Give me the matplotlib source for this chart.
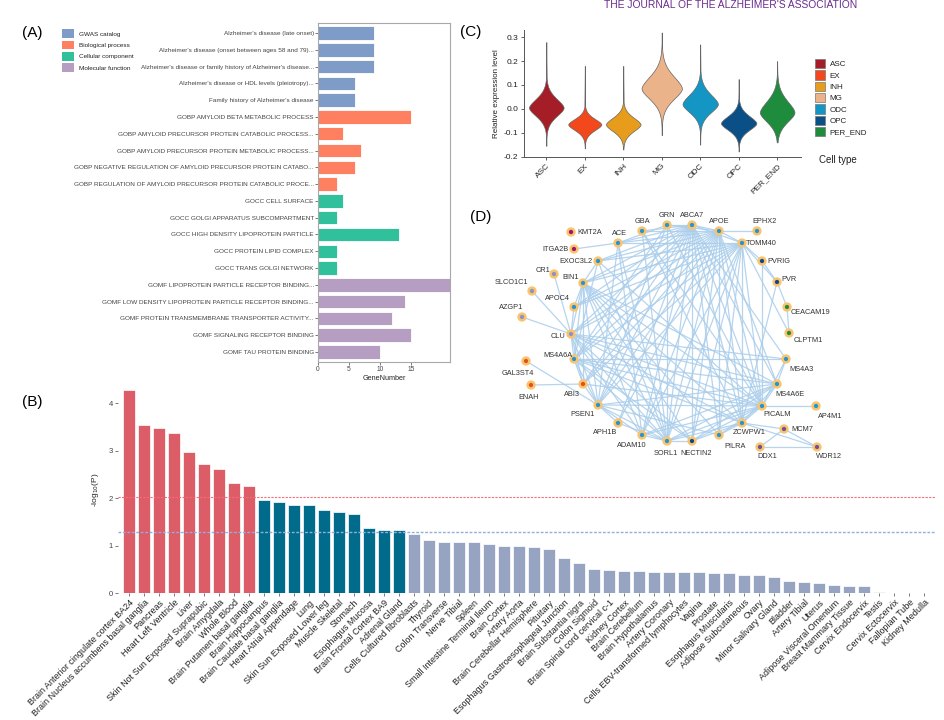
import numpy as np
import matplotlib
matplotlib.use("Agg")
import matplotlib.pyplot as plt
from matplotlib.patches import Patch

plt.rcParams['font.family'] = ['Liberation Sans', 'DejaVu Sans']

W, H = 945, 720

# ---------------- panel A data ----------------
terms_A = [
    "Alzheimer's disease (late onset)",
    "Alzheimer's disease (onset between ages 58 and 79)...",
    "Alzheimer's disease or family history of Alzheimer's disease...",
    "Alzheimer's disease or HDL levels (pleiotropy)...",
    "Family history of Alzheimer's disease",
    "GOBP AMYLOID BETA METABOLIC PROCESS",
    "GOBP AMYLOID PRECURSOR PROTEIN CATABOLIC PROCESS...",
    "GOBP AMYLOID PRECURSOR PROTEIN METABOLIC PROCESS...",
    "GOBP NEGATIVE REGULATION OF AMYLOID PRECURSOR PROTEIN CATABO...",
    "GOBP REGULATION OF AMYLOID PRECURSOR PROTEIN CATABOLIC PROCE...",
    "GOCC CELL SURFACE",
    "GOCC GOLGI APPARATUS SUBCOMPARTMENT",
    "GOCC HIGH DENSITY LIPOPROTEIN PARTICLE",
    "GOCC PROTEIN LIPID COMPLEX",
    "GOCC TRANS GOLGI NETWORK",
    "GOMF LIPOPROTEIN PARTICLE RECEPTOR BINDING...",
    "GOMF LOW DENSITY LIPOPROTEIN PARTICLE RECEPTOR BINDING...",
    "GOMF PROTEIN TRANSMEMBRANE TRANSPORTER ACTIVITY...",
    "GOMF SIGNALING RECEPTOR BINDING",
    "GOMF TAU PROTEIN BINDING",
]
genes_A = [9, 9, 9, 6, 6, 15, 4, 7, 6, 3, 4, 3, 13, 3, 3, 22, 14, 12, 15, 10]
source_A = (["GWAS catalog"] * 5 + ["Biological process"] * 5 +
            ["Cellular component"] * 5 + ["Molecular function"] * 5)
source_names = ["GWAS catalog", "Biological process", "Cellular component", "Molecular function"]
source_colors = {"GWAS catalog": "#7F9BC8", "Biological process": "#FF8060",
                 "Cellular component": "#30C19C", "Molecular function": "#B69EC3"}

# ---------------- panel B data ----------------
tissues = [
    "Brain Anterior cingulate cortex BA24", "Brain Nucleus accumbens basal ganglia", "Pancreas",
    "Heart Left Ventricle", "Liver", "Skin Not Sun Exposed Suprapubic", "Brain Amygdala",
    "Whole Blood", "Brain Putamen basal ganglia",
    "Brain Hippocampus", "Brain Caudate basal ganglia", "Heart Atrial Appendage", "Lung",
    "Skin Sun Exposed Lower leg", "Muscle Skeletal", "Stomach", "Esophagus Mucosa",
    "Brain Frontal Cortex BA9", "Adrenal Gland",
    "Cells Cultured fibroblasts", "Thyroid", "Colon Transverse", "Nerve Tibial", "Spleen",
    "Small Intestine Terminal Ileum", "Brain Cortex", "Artery Aorta",
    "Brain Cerebellar Hemisphere", "Pituitary", "Esophagus Gastroesophageal Junction",
    "Brain Substantia nigra", "Colon Sigmoid", "Brain Spinal cord cervical c-1",
    "Kidney Cortex", "Brain Cerebellum", "Brain Hypothalamus", "Artery Coronary",
    "Cells EBV-transformed lymphocytes", "Vagina", "Prostate", "Esophagus Muscularis",
    "Adipose Subcutaneous", "Ovary", "Minor Salivary Gland", "Bladder", "Artery Tibial",
    "Uterus", "Adipose Visceral Omentum", "Breast Mammary Tissue", "Cervix Endocervix",
    "Testis", "Cervix Ectocervix", "Fallopian Tube", "Kidney Medulla",
]
logp = [4.27, 3.54, 3.47, 3.37, 2.97, 2.72, 2.61, 2.33, 2.25,
        1.97, 1.92, 1.86, 1.85, 1.75, 1.72, 1.67, 1.38, 1.34, 1.33,
        1.25, 1.12, 1.09, 1.09, 1.07, 1.04, 1.00, 0.99, 0.97, 0.94, 0.75, 0.64,
        0.52, 0.49, 0.48, 0.46, 0.45, 0.45, 0.44, 0.44, 0.42, 0.42, 0.39, 0.38,
        0.35, 0.26, 0.24, 0.22, 0.175, 0.16, 0.155, 0.03, 0.0, 0.0, 0.0]
group_B = ["high"] * 9 + ["mid"] * 10 + ["low"] * 35
group_colors = {"high": "#DC5D68", "mid": "#006B8A", "low": "#97A4C1"}
line_red = 2.03
line_blue = 1.30

# ---------------- panel C data ----------------
cell_types = ["ASC", "EX", "INH", "MG", "ODC", "OPC", "PER_END"]
cell_colors = ["#A51D26", "#F2481C", "#E89C1B", "#EAB38A", "#1496C5", "#0B4F87", "#1F8B3D"]
v_mode = [0.005, -0.065, -0.065, 0.085, 0.02, -0.06, -0.015]
v_s_up = [0.055, 0.035, 0.042, 0.075, 0.06, 0.045, 0.07]
v_s_dn = [0.052, 0.036, 0.042, 0.065, 0.052, 0.042, 0.058]
v_lo = [-0.155, -0.165, -0.17, -0.11, -0.15, -0.178, -0.14]
v_hi = [0.28, 0.18, 0.18, 0.32, 0.27, 0.125, 0.2]
v_width = [0.9, 0.86, 0.9, 1.05, 0.92, 0.92, 0.9]

# ---------------- panel D data ----------------
node_xy = {
    "KMT2A": (571, 232), "ITGA2B": (574, 249), "ACE": (618, 243), "GBA": (642, 231),
    "GRN": (667, 225), "ABCA7": (692, 225), "APOE": (719, 231), "EPHX2": (757, 231),
    "TOMM40": (742, 243), "EXOC3L2": (598, 261), "CR1": (554, 274), "BIN1": (583, 283),
    "SLCO1C1": (532, 291), "APOC4": (574, 307), "AZGP1": (522, 317), "CLU": (571, 334),
    "MS4A6A": (574, 359), "GAL3ST4": (526, 361), "ENAH": (531, 385), "ABI3": (583, 384),
    "PSEN1": (598, 405), "APH1B": (618, 423), "ADAM10": (642, 435), "SORL1": (667, 441),
    "NECTIN2": (692, 441), "PILRA": (719, 435), "PVRIG": (762, 261), "PVR": (777, 282),
    "CEACAM19": (787, 307), "CLPTM1": (789, 333), "MS4A3": (786, 359), "MS4A6E": (777, 384),
    "PICALM": (762, 406), "AP4M1": (816, 406), "ZCWPW1": (742, 423), "MCM7": (784, 429),
    "DDX1": (760, 447), "WDR12": (817, 447),
}
label_off = {
    "KMT2A": (19, 0), "ITGA2B": (-18, 0), "ACE": (1, -10), "GBA": (0, -10),
    "GRN": (0, -10), "ABCA7": (0, -10), "APOE": (0, -10), "EPHX2": (8, -10),
    "TOMM40": (19, 0), "EXOC3L2": (-22, 0), "CR1": (-11, -4), "BIN1": (-12, -6),
    "SLCO1C1": (-21, -9), "APOC4": (-17, -9), "AZGP1": (-11, -10), "CLU": (-13, 2),
    "MS4A6A": (-16, -4), "GAL3ST4": (-8, 12), "ENAH": (-2, 12), "ABI3": (-11, 10),
    "PSEN1": (-15, 9), "APH1B": (-13, 9), "ADAM10": (-10, 10), "SORL1": (-1, 12),
    "NECTIN2": (4, 12), "PILRA": (16, 11), "PVRIG": (17, 0), "PVR": (12, -3),
    "CEACAM19": (23, 5), "CLPTM1": (19, 7), "MS4A3": (16, 10), "MS4A6E": (13, 10),
    "PICALM": (15, 8), "AP4M1": (14, 10), "ZCWPW1": (7, 9), "MCM7": (18, 0),
    "DDX1": (7, 9), "WDR12": (12, 9),
}
blue, dblue = "#2494D8", "#0D4A8B"
node_color = {n: blue for n in node_xy}
for n in ["KMT2A", "ITGA2B"]:
    node_color[n] = "#A5106F"
for n in ["CR1", "SLCO1C1", "AZGP1", "CLU"]:
    node_color[n] = "#8C92C6"
for n in ["GAL3ST4", "ENAH", "ABI3"]:
    node_color[n] = "#E4511A"
for n in ["NECTIN2", "PVRIG", "PVR"]:
    node_color[n] = dblue
for n in ["CEACAM19", "CLPTM1"]:
    node_color[n] = "#1F8B3B"
for n in ["MCM7", "DDX1", "WDR12"]:
    node_color[n] = "#6C50A4"

links = {
    "APOE": ["ABCA7", "TOMM40", "EPHX2", "BIN1", "CLU", "EXOC3L2", "ACE", "GRN", "PICALM",
             "SORL1", "PSEN1", "MS4A6A", "ABI3", "NECTIN2", "PILRA", "ZCWPW1", "ADAM10",
             "APOC4", "MS4A6E", "APH1B", "GBA"],
    "ABCA7": ["TOMM40", "BIN1", "CLU", "EXOC3L2", "PICALM", "SORL1", "PSEN1", "MS4A6A",
              "ABI3", "NECTIN2", "PILRA", "ZCWPW1", "MS4A6E", "ADAM10", "APH1B", "GRN",
              "APOC4", "MS4A3", "ACE", "GBA"],
    "TOMM40": ["BIN1", "CLU", "EXOC3L2", "PICALM", "SORL1", "PSEN1", "MS4A6A", "NECTIN2",
               "PILRA", "ZCWPW1", "PVRIG", "PVR", "CLPTM1", "ACE", "APOC4", "ABI3", "ADAM10"],
    "BIN1": ["CLU", "PICALM", "SORL1", "PSEN1", "MS4A6A", "ABI3", "MS4A6E", "ZCWPW1",
             "NECTIN2", "ADAM10", "EXOC3L2", "APOC4", "PILRA"],
    "CLU": ["PICALM", "SORL1", "PSEN1", "MS4A6A", "ABI3", "MS4A6E", "ZCWPW1", "ADAM10",
            "APOC4", "SLCO1C1", "AZGP1", "CR1", "MS4A3", "NECTIN2"],
    "PICALM": ["SORL1", "PSEN1", "MS4A6A", "ABI3", "MS4A6E", "MS4A3", "ZCWPW1", "AP4M1",
               "ADAM10", "NECTIN2", "PILRA", "EXOC3L2", "GRN", "GBA"],
    "SORL1": ["PSEN1", "MS4A6A", "ADAM10", "APH1B", "NECTIN2", "ZCWPW1", "GRN", "GBA",
              "ACE", "EXOC3L2", "MS4A6E"],
    "PSEN1": ["MS4A6A", "ADAM10", "APH1B", "ABI3", "ACE", "GRN", "MS4A6E", "PILRA", "GAL3ST4"],
    "MS4A6A": ["MS4A6E", "MS4A3", "ABI3", "ZCWPW1", "NECTIN2", "EXOC3L2", "GRN"],
    "ZCWPW1": ["NECTIN2", "PILRA", "MCM7", "WDR12", "MS4A6E", "GBA", "PVR"],
    "ACE": ["ITGA2B", "ADAM10", "GRN"],
    "MS4A6E": ["MS4A3", "NECTIN2", "ADAM10"],
    "ABI3": ["ENAH"],
    "PVRIG": ["PVR", "PICALM"],
    "CEACAM19": ["PVR", "CLPTM1"],
    "MCM7": ["DDX1", "WDR12"],
    "DDX1": ["WDR12"],
}

fig = plt.figure(figsize=(W / 100, H / 100), dpi=100)


def rect(left, top, right, bottom):
    return [left / W, 1 - bottom / H, (right - left) / W, (bottom - top) / H]


txt = "#222222"

# ---------------- panel A ----------------
axA = fig.add_axes(rect(318, 23, 450, 362))
ypos = np.arange(len(terms_A))
axA.barh(ypos, genes_A, height=0.8, color=[source_colors[s] for s in source_A],
         edgecolor="white", linewidth=0.6)
axA.set_ylim(len(terms_A) - 0.4, -0.6)
axA.set_xlim(0, 21.3)
axA.set_yticks(ypos)
axA.set_yticklabels(terms_A, fontsize=4.6, color=txt)
axA.set_xticks([0, 5, 10, 15])
axA.tick_params(axis="both", length=2, width=0.5, pad=1, labelsize=4.8, colors="#444444")
axA.tick_params(axis="y", labelsize=4.6)
axA.set_xlabel("GeneNumber", fontsize=5.2, labelpad=1, color=txt)
for sp in axA.spines.values():
    sp.set_color("#A8A8A8")
    sp.set_linewidth(0.8)
handles = [Patch(facecolor=source_colors[s], edgecolor="none", label=s) for s in source_names]
fig.legend(handles=handles, loc="upper left", bbox_to_anchor=(59 / W, 1 - 26 / H),
           frameon=False, fontsize=4.6, handlelength=1.9, handleheight=1.75,
           labelspacing=0.4, handletextpad=0.7, borderpad=0, labelcolor=txt)
fig.text(22 / W, 1 - 33 / H, "(A)", fontsize=11, va="center", ha="left")

# ---------------- panel B ----------------
axB = fig.add_axes(rect(118, 386.7, 935, 593.3))
xb = np.arange(len(tissues))
axB.bar(xb, logp, width=0.8, color=[group_colors[g] for g in group_B],
        edgecolor="white", linewidth=0.5)
axB.axhline(line_red, color="#F26D78", linestyle=(0, (2, 1.2)), linewidth=0.8)
axB.axhline(line_blue, color="#93AEDB", linestyle=(0, (2, 1.2)), linewidth=1.0)
axB.set_xlim(-0.73, len(tissues) - 0.3)
axB.set_ylim(0, 4.35)
axB.set_yticks([0, 1, 2, 3, 4])
axB.set_xticks(xb)
axB.set_xticklabels(tissues, rotation=45, ha="right", rotation_mode="anchor",
                    fontsize=6.5, color=txt)
axB.tick_params(axis="both", length=2, width=0.5, pad=1.5, colors="#444444")
axB.tick_params(axis="x", labelcolor=txt)
axB.tick_params(axis="y", labelsize=5.5)
for sp in axB.spines.values():
    sp.set_visible(False)
axB.set_ylabel(r"-log$_{10}$(P)", fontsize=6, color=txt, labelpad=6)
fig.text(22 / W, 1 - 402 / H, "(B)", fontsize=11, va="center", ha="left")

# ---------------- panel C ----------------
axC = fig.add_axes(rect(524, 30, 801, 156.7))
for i in range(len(cell_types)):
    y = np.linspace(v_lo[i], v_hi[i], 400)
    d = y - v_mode[i]
    s = np.where(d > 0, v_s_up[i], v_s_dn[i])
    body = np.exp(-(np.abs(d) / s) ** 1.7)
    end = np.where(d > 0, v_hi[i], v_lo[i])
    tail = 0.035 * np.clip(1 - np.abs(d) / np.abs(end - v_mode[i]), 0, 1)
    half = np.maximum(body, tail) * v_width[i] / 2
    axC.fill_betweenx(y, i + 1 - half, i + 1 + half, facecolor=cell_colors[i],
                      edgecolor="#666666", linewidth=0.5)
axC.set_xlim(0.42, 7.62)
axC.set_ylim(-0.2, 0.33)
axC.set_yticks([-0.2, -0.1, 0.0, 0.1, 0.2, 0.3])
axC.set_yticklabels(["-0.2", "-0.1", "0.0", "0.1", "0.2", "0.3"])
axC.set_xticks(range(1, 8))
axC.set_xticklabels(cell_types, rotation=45, ha="right", rotation_mode="anchor")
axC.tick_params(axis="both", length=2.5, width=0.6, pad=1.5, labelsize=6,
                colors="#444444", labelcolor=txt)
for side in ["top", "right"]:
    axC.spines[side].set_visible(False)
for side in ["left", "bottom"]:
    axC.spines[side].set_color("#555555")
    axC.spines[side].set_linewidth(0.7)
axC.set_ylabel("Relative expression level", fontsize=5.8, color=txt, labelpad=3)
ch = [Patch(facecolor=c, edgecolor="#777777", linewidth=0.5, label=n)
      for n, c in zip(cell_types, cell_colors)]
fig.legend(handles=ch, loc="upper left", bbox_to_anchor=(811 / W, 1 - 55 / H),
           frameon=False, fontsize=5.8, handlelength=1.2, handleheight=1.4,
           labelspacing=0.25, handletextpad=0.6, borderpad=0, labelcolor=txt)
fig.text(819 / W, 1 - 160 / H, "Cell type", fontsize=7, va="center", ha="left", color=txt)
fig.text(460 / W, 1 - 32 / H, "(C)", fontsize=11, va="center", ha="left")

# ---------------- panel D ----------------
axD = fig.add_axes(rect(500, 205, 845, 465))
axD.set_xlim(500, 845)
axD.set_ylim(465, 205)
axD.axis("off")
for a, nbrs in links.items():
    for b in nbrs:
        (x1, y1), (x2, y2) = node_xy[a], node_xy[b]
        axD.plot([x1, x2], [y1, y2], color="#A9CDEB", linewidth=0.9, alpha=0.85,
                 solid_capstyle="round", zorder=1)
names = list(node_xy)
axD.scatter([node_xy[n][0] for n in names], [node_xy[n][1] for n in names], s=24,
            c=[node_color[n] for n in names], edgecolors="#F9C46C", linewidths=1.8, zorder=3)
for n in names:
    dx, dy = label_off[n]
    axD.text(node_xy[n][0] + dx, node_xy[n][1] + dy, n, fontsize=5.3, color="#333333",
             ha="center", va="center", zorder=4)
fig.text(470 / W, 1 - 217 / H, "(D)", fontsize=11, va="center", ha="left")

# journal header
fig.text(731 / W, 1 - 7.5 / H, "THE JOURNAL OF THE ALZHEIMER'S ASSOCIATION", fontsize=7.4,
         color="#6A2C8E", ha="center", va="baseline")

fig.savefig("out.png", dpi=100)
